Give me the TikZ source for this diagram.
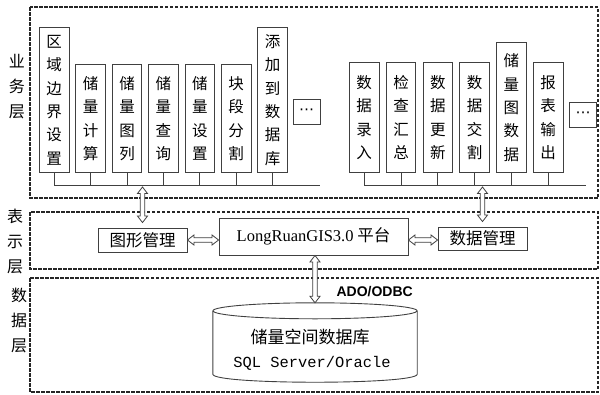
\documentclass[tikz,border=0pt]{standalone}
\usepackage{fontspec}
\setmainfont{Noto Sans CJK SC}
\newfontfamily\latinserif{Liberation Serif}
\newfontfamily\latinmono{Liberation Mono}
\newfontfamily\latinsans{Liberation Sans}
\newfontfamily\symfont{DejaVu Sans}
\usetikzlibrary{calc}

\tikzset{
  layer/.style={draw=black!85, line width=1.5pt, dash pattern=on 3.5pt off 1.5pt},
  box/.style={draw=black!75, line width=0.9pt, inner sep=0pt},
  vbox/.style={box, minimum width=29.5pt, anchor=south west, align=center,
               font=\fontsize{15.5}{23.4}\selectfont},
  hbox/.style={box, font=\fontsize{16.5}{18}\selectfont},
  dotbox/.style={box, minimum width=27pt, minimum height=25pt,
                 font=\symfont\fontsize{15}{15}\selectfont},
  wire/.style={draw=black!75, line width=0.9pt},
  hollow/.style={draw=black!75, line width=0.8pt, fill=white, line join=miter},
  cyl/.style={draw=black!75, line width=0.9pt},
  lbl/.style={align=center, font=\fontsize{16}{25}\selectfont},
}

% outlined double-headed arrow between two points
\newcommand\hollowlink[2]{%
  \path[hollow] let \p1=#1, \p2=#2,
    \n1={veclen(\x2-\x1,\y2-\y1)}, \n2={atan2(\y2-\y1,\x2-\x1)} in
    {[shift={(\p1)}, rotate=\n2]
     (0,0) -- (6.5,5) -- (6.5,2.2) -- (\n1-6.5,2.2) -- (\n1-6.5,5) -- (\n1,0)
     -- (\n1-6.5,-5) -- (\n1-6.5,-2.2) -- (6.5,-2.2) -- (6.5,-5) -- cycle};
}

\begin{document}
\begin{tikzpicture}[x=1pt, y=-1pt]
\useasboundingbox (0,0) rectangle (600,394);

% layer frames
\draw[layer] (30,7) rectangle (598,198);
\draw[layer] (30,212) rectangle (598,269);
\draw[layer] (30,278) rectangle (598,392);

% layer captions
\node[lbl] (capA) at (17,87) {业\\务\\层};
\node[lbl] (capB) at (15,241) {表\\示\\层};
\node[lbl] (capC) at (19,320) {数\\据\\层};

% business functions, left group
\node[vbox, minimum height=145pt] (b1) at (39,173)    {区\\域\\边\\界\\设\\置};
\node[vbox, minimum height=108pt] (b2) at (75.4,173)  {储\\量\\计\\算};
\node[vbox, minimum height=108pt] (b3) at (111.8,173) {储\\量\\图\\列};
\node[vbox, minimum height=108pt] (b4) at (148.2,173) {储\\量\\查\\询};
\node[vbox, minimum height=108pt] (b5) at (184.6,173) {储\\量\\设\\置};
\node[vbox, minimum height=108pt] (b6) at (221,173)   {块\\段\\分\\割};
\node[vbox, minimum height=145pt] (b7) at (257.4,173) {添\\加\\到\\数\\据\\库};
\node[dotbox] (d1) at (306.5,112) {⋯};

% business functions, right group
\node[vbox, minimum height=110pt] (r1) at (349,173)   {数\\据\\录\\入};
\node[vbox, minimum height=110pt] (r2) at (385.8,173) {检\\查\\汇\\总};
\node[vbox, minimum height=110pt] (r3) at (422.6,173) {数\\据\\更\\新};
\node[vbox, minimum height=110pt] (r4) at (459.4,173) {数\\据\\交\\割};
\node[vbox, minimum height=130pt] (r5) at (496.2,173) {储\\量\\图\\数\\据};
\node[vbox, minimum height=110pt] (r6) at (533,173)   {报\\表\\输\\出};
\node[dotbox] (d2) at (583,115) {⋯};

% buses
\path (b1.south) ++(0,12) coordinate (lbusW);
\path (r1.south) ++(0,12) coordinate (rbusW);
\foreach \b in {b1,b2,b3,b4,b5,b6,b7} \draw[wire] (\b.south) -- (\b.south |- lbusW);
\foreach \b in {r1,r2,r3,r4,r5,r6} \draw[wire] (\b.south) -- (\b.south |- rbusW);
\draw[wire] (lbusW) -- (d1.east |- lbusW);
\draw[wire] (rbusW) -- ([xshift=3pt]d2.center |- rbusW);

% presentation layer
\node[hbox, minimum width=89pt, minimum height=24pt] (gfx) at (142.5,240) {图形管理};
\node[box, minimum width=189pt, minimum height=37pt, font=\fontsize{16.5}{18}\selectfont]
  (plat) at (313.5,236.5) {{\latinserif LongRuanGIS3.0} 平台};
\node[hbox, minimum width=89pt, minimum height=23pt] (dm) at (482.5,238.5) {数据管理};

% data layer
\node[minimum width=204pt, minimum height=80pt, inner sep=0pt] (db) at (315,343) {};
\draw[cyl] ($(db.north west)+(0,8)$) -- ($(db.south west)+(0,-9)$)
  .. controls +(0,10.7) and +(0,10.7) .. ($(db.south east)+(0,-9)$)
  -- ($(db.north east)+(0,8)$);
\draw[cyl] ($(db.north)+(0,8)$) ellipse [x radius=102pt, y radius=8pt];
\node[font=\fontsize{17}{20}\selectfont] (dbname) at ($(db.center)+(-5,-6)$) {储量空间数据库};
\node[font=\latinmono\fontsize{15.4}{18}\selectfont] (dbsys) at ($(db.center)+(-3,20)$) {SQL Server/Oracle};
\node[font=\latinsans\bfseries\fontsize{14}{16}\selectfont, anchor=west] (ado) at (333,292) {ADO/ODBC};

% links between layers and modules
\coordinate (a1s) at ($(gfx.north |- lbusW)+(0,2)$);
\coordinate (a1e) at ($(gfx.north)+(0,-5)$);
\coordinate (a2s) at ($(dm.north |- rbusW)+(0,2)$);
\coordinate (a2e) at ($(dm.north)+(0,-5)$);
\coordinate (a3s) at (db.north |- plat.south);
\hollowlink{(a1s)}{(a1e)}
\hollowlink{(a2s)}{(a2e)}
\hollowlink{(gfx.east)}{(gfx.east -| plat.west)}
\hollowlink{(plat.east |- gfx.east)}{(dm.west |- gfx.east)}
\hollowlink{(a3s)}{(db.north)}
\end{tikzpicture}
\end{document}
